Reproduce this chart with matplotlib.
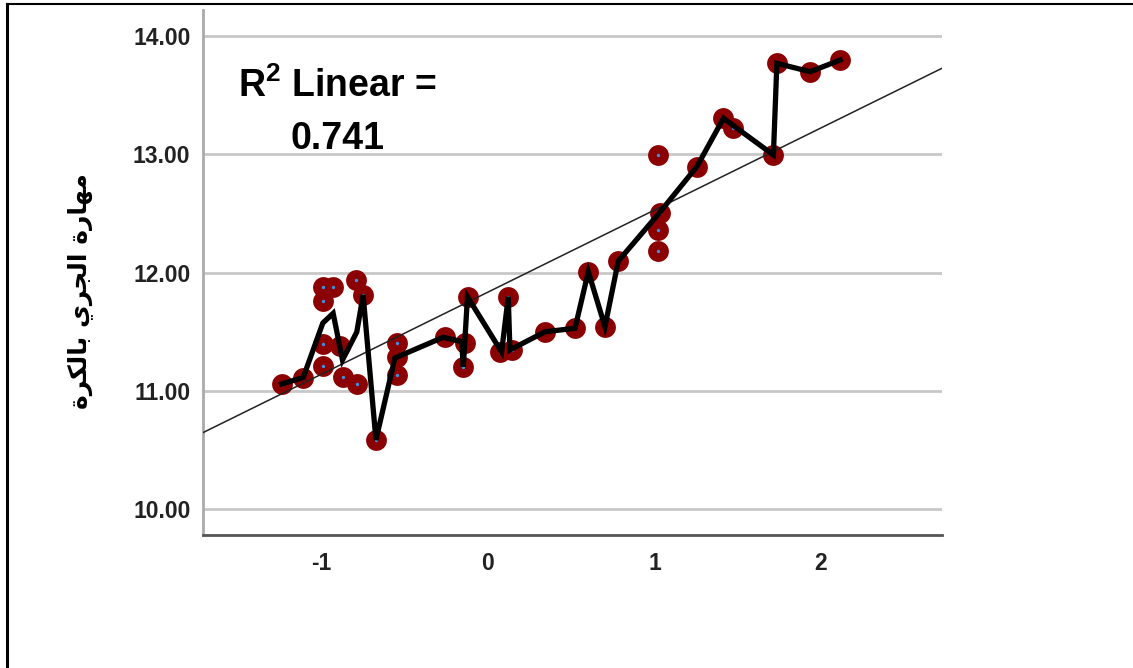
import numpy as np
import matplotlib
matplotlib.use("Agg")
import matplotlib.pyplot as plt
from matplotlib.lines import Line2D

plt.rcParams["font.family"] = ["Liberation Sans", "DejaVu Sans"]
plt.rcParams["axes.unicode_minus"] = False
plt.rcParams["mathtext.fontset"] = "custom"
plt.rcParams["mathtext.rm"] = "Liberation Sans:bold"
plt.rcParams["mathtext.bf"] = "Liberation Sans:bold"
plt.rcParams["mathtext.it"] = "Liberation Sans:bold"

# scatter points
pts_x = [-1.240, -1.110, -0.994, -0.930, -0.994, -0.794, -0.750, -0.994, -0.994,
         -0.890, -0.870, -0.786, -0.673, -0.549, -0.549, -0.549, -0.259, -0.138,
         -0.148, -0.118, 0.072, 0.122, 0.142, 0.343, 0.523, 0.603, 0.703, 0.783,
         1.024, 1.024, 1.034, 1.024, 1.255, 1.415, 1.475, 1.715, 1.736, 1.936, 2.116]
pts_y = [11.057, 11.105, 11.880, 11.880, 11.762, 11.937, 11.810, 11.395, 11.209,
         11.378, 11.119, 11.057, 10.584, 11.401, 11.285, 11.133, 11.457, 11.401,
         11.203, 11.795, 11.330, 11.795, 11.345, 11.499, 11.528, 12.007, 11.542, 12.097,
         12.182, 12.359, 12.501, 12.994, 12.895, 13.304, 13.219, 12.994, 13.769, 13.698, 13.797]

# connecting line vertices
line_x = [-1.240, -1.110, -0.992, -0.930, -0.874, -0.788, -0.750, -0.673, -0.559,
          -0.269, -0.158, -0.148, -0.123, 0.082, 0.122, 0.132, 0.343, 0.523, 0.603,
          0.703, 0.783, 1.028, 1.255, 1.415, 1.715, 1.736, 1.936, 2.116]
line_y = [11.057, 11.112, 11.573, 11.655, 11.260, 11.497, 11.810, 10.584, 11.277,
          11.452, 11.415, 11.203, 11.795, 11.328, 11.795, 11.345, 11.499, 11.528, 12.007,
          11.542, 12.097, 12.501, 12.895, 13.304, 12.994, 13.769, 13.698, 13.797]

# fit line
fit_slope = 0.694
fit_intercept = 11.834
r2 = "0.741"

yticks = [10, 11, 12, 13, 14]
xticks = [-1, 0, 1, 2]
ylabel = "مهارة الجري بالكرة"

# minimal arabic shaping for the label (matplotlib has no shaping)
forms = {
    "م": "\uFEE1\uFEE2\uFEE3\uFEE4", "ه": "\uFEE9\uFEEA\uFEEB\uFEEC",
    "ل": "\uFEDD\uFEDE\uFEDF\uFEE0", "ج": "\uFE9D\uFE9E\uFE9F\uFEA0",
    "ي": "\uFEF1\uFEF2\uFEF3\uFEF4", "ب": "\uFE8F\uFE90\uFE91\uFE92",
    "ك": "\uFED9\uFEDA\uFEDB\uFEDC",
    "ا": "\uFE8D\uFE8E", "ر": "\uFEAD\uFEAE", "ة": "\uFE93\uFE94",
}


def shape(text):
    out = []
    for i, c in enumerate(text):
        if c not in forms:
            out.append(c)
            continue
        prev = text[i - 1] if i > 0 else ""
        nxt = text[i + 1] if i + 1 < len(text) else ""
        jp = prev in forms and len(forms[prev]) == 4
        jn = nxt in forms and len(forms[c]) == 4
        f = forms[c]
        if jp and jn:
            out.append(f[3])
        elif jp:
            out.append(f[1])
        elif jn:
            out.append(f[2])
        else:
            out.append(f[0])
    return "".join(out)[::-1]


fig = plt.figure(figsize=(11.33, 6.68), dpi=100)
ax = fig.add_axes([203 / 1133, 133 / 668, 739 / 1133, 525 / 668])

ax.set_xlim(-1.712, 2.728)
ax.set_ylim(9.780, 14.22)

for t in yticks:
    ax.axhline(t, color="#c8c8c8", lw=2, zorder=0)

ax.scatter(pts_x, pts_y, s=225, color="#8b0000", zorder=2, linewidths=0)
ax.scatter(pts_x, pts_y, s=6, color="#3f8fe0", zorder=2.5, linewidths=0)

xx = np.array(ax.get_xlim())
ax.plot(xx, fit_intercept + fit_slope * xx, color="#222222", lw=1.1, zorder=3)

ax.plot(line_x, line_y, color="black", lw=3.8, solid_joinstyle="miter", zorder=4)

ax.set_yticks(yticks)
ax.set_yticklabels([f"{t:.2f}" for t in yticks])
ax.set_xticks(xticks)
ax.tick_params(length=0, labelsize=16.5)
ax.tick_params(axis="y", pad=9)
ax.tick_params(axis="x", pad=12)
for lab in ax.get_xticklabels() + ax.get_yticklabels():
    lab.set_fontweight("bold")
    lab.set_color("#222222")

for s in ["top", "right"]:
    ax.spines[s].set_visible(False)
ax.spines["left"].set_color("#aaaaaa")
ax.spines["left"].set_linewidth(2)
ax.spines["bottom"].set_color("#555555")
ax.spines["bottom"].set_linewidth(2)

ax.text(-0.905, 13.484, r"$\mathrm{R}^{2}$ Linear =", fontsize=27, fontweight="bold",
        ha="center", va="baseline")
ax.text(-0.905, 13.044, r2, fontsize=27, fontweight="bold", ha="center", va="baseline")

fig.text(80 / 1133, 1 - 291 / 668, shape(ylabel), rotation=90, fontsize=18,
         fontweight="bold", family="DejaVu Sans", ha="center", va="center")

# outer frame
fig.add_artist(Line2D([7 / 1133, 7 / 1133], [0, 1 - 4 / 668], color="black", lw=2.2,
                      transform=fig.transFigure))
fig.add_artist(Line2D([7 / 1133, 1], [1 - 4 / 668, 1 - 4 / 668], color="black", lw=1.5,
                      transform=fig.transFigure))

fig.savefig("out.png", dpi=100)
